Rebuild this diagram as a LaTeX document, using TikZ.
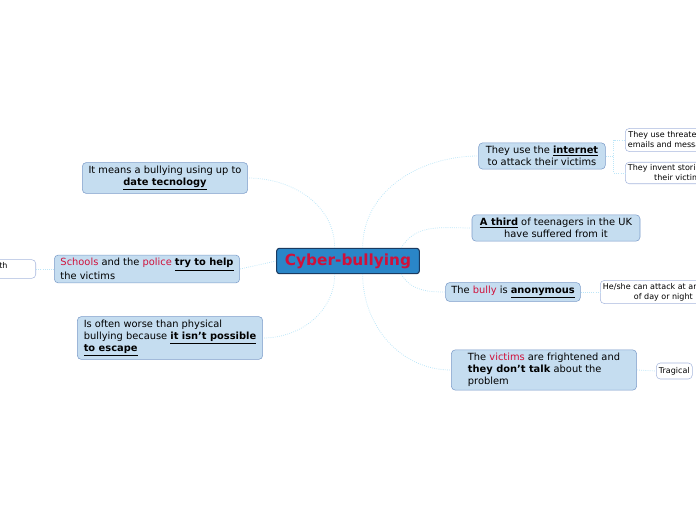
\documentclass[tikz,border=0pt]{standalone}
\usepackage{fontspec}
\setmainfont{DejaVu Sans}
\definecolor{topicfill}{HTML}{C5DDF0}
\definecolor{topicdraw}{HTML}{7C9CC9}
\definecolor{subdraw}{HTML}{A8B8DE}
\definecolor{rootfill}{HTML}{2A86C8}
\definecolor{rootdraw}{HTML}{1A3A60}
\definecolor{hot}{HTML}{D0103A}
\definecolor{wire}{HTML}{BDE6F8}
\newcommand{\hl}[1]{\textcolor{hot}{#1}}
\newcommand{\key}[1]{\underline{\textbf{#1}}}

\begin{document}
\begin{tikzpicture}[%
    x=0.75pt, y=-0.75pt,
    font=\fontsize{7.4}{9}\selectfont,
    % Styles
    root/.style={draw=rootdraw, fill=rootfill, rounded corners=2pt, line width=0.8pt, font=\fontsize{11.5}{13}\selectfont\bfseries, text=hot, minimum width=107pt, minimum height=19pt},
    topic/.style={draw=topicdraw, fill=topicfill, rounded corners=3pt, inner sep=2.5pt, minimum height=13pt},
    sub/.style={draw=subdraw, fill=white, rounded corners=3pt, inner sep=2pt, font=\fontsize{6}{7.5}\selectfont, align=center, minimum height=13pt},
    wire/.style={draw=wire, line width=0.6pt, densely dotted}
]
\useasboundingbox (0,0) rectangle (696,520);

% --- Root ---
\node[root] (cb) at (348,261) {Cyber-bullying};

% --- Left topics ---
\node[topic, align=center, minimum width=124pt] (means) at (165,178) {It means a bullying using up to\\\key{date tecnology}};
\node[topic, align=left, minimum width=139pt] (help) at (147,269) {\hl{Schools} and the \hl{police} \key{try to help}\\the victims};
\node[topic, align=left, minimum width=139pt] (worse) at (170,338) {Is often worse than physical\\bullying because \key{it isn't possible}\\\key{to escape}};
\node[sub, anchor=east, minimum width=60pt, align=right] (with) at (36,269) {s with\\[-2pt]};

% --- Right topics ---
\node[topic, align=center, minimum width=95pt] (net) at (542,156) {They use the \key{internet}\\to attack their victims};
\node[topic, align=center, minimum width=126pt] (third) at (556,228) {\key{A third} of teenagers in the UK\\have suffered from it};
\node[topic, minimum width=101pt] (anon) at (513,292) {The \hl{bully} is \key{anonymous}};
\node[topic, align=left, minimum width=139pt] (fear) at (544,370) {The \hl{victims} are frightened and\\\textbf{they don't talk} about the\\problem};

% --- Sub topics (cut by the right edge) ---
\node[sub, anchor=west] (threat) at (625,140) {They use threatening\\emails and messages};
\node[sub, anchor=west] (story) at (625,173) {They invent stories about\\their victims};
\node[sub, anchor=west] (time) at (600,292) {He/she can attack at any time\\of day or night};
\node[sub, anchor=west, minimum height=12pt] (tragic) at (656,371) {Tragical};

% Connections
\draw[wire] ([xshift=-10pt]cb.north) to[out=90,in=0] (means.east);
\draw[wire] (cb.west) -- (help.east);
\draw[wire] ([xshift=-10pt]cb.south) to[out=-90,in=0] (worse.east);
\draw[wire] (help.west) -- (with.east);
\draw[wire] ([xshift=11pt]cb.north) to[out=90,in=180] (net.west);
\draw[wire] ([xshift=40pt]cb.north) to[out=60,in=180] (third.west);
\draw[wire] ([xshift=40pt]cb.south) to[out=-60,in=180] (anon.west);
\draw[wire] ([xshift=11pt]cb.south) to[out=-90,in=180] (fear.west);
\draw[wire] (net.east) -- ++(8,0) |- (threat.west);
\draw[wire] (net.east) -- ++(8,0) |- (story.west);
\draw[wire] (anon.east) -- (time.west);
\draw[wire] (fear.east) -- (tragic.west);
\end{tikzpicture}
\end{document}
